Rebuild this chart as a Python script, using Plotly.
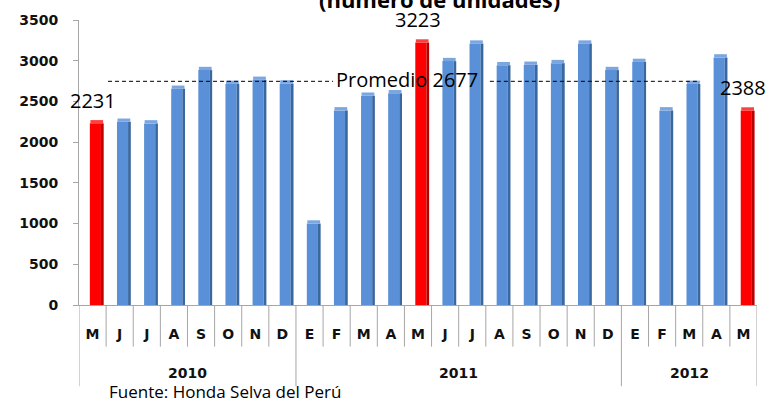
import plotly.graph_objects as go

# ---------------- data ----------------
MESES = ["M", "J", "J", "A", "S", "O", "N", "D",
         "E", "F", "M", "A", "M", "J", "J", "A", "S", "O", "N", "D",
         "E", "F", "M", "A", "M"]
ANIOS = ["2010"] * 8 + ["2011"] * 12 + ["2012"] * 5
UNIDADES = [2231, 2250, 2230, 2655, 2885, 2715, 2765, 2720,
            1000, 2390, 2570, 2600, 3223, 2995, 3210, 2945, 2950, 2970, 3210, 2885,
            2985, 2390, 2715, 3040, 2388]
DESTACADOS = [0, 12, 24]          # highlighted months (red, labelled)
PROMEDIO = 2677
Y_TICKS = [0, 500, 1000, 1500, 2000, 2500, 3000, 3500]
TITULO = "(número de unidades)"
FUENTE = "Fuente: Honda Selva del Perú"

# ---------------- styling ----------------
BLUE, BLUE_SIDE, BLUE_TOP = "#5990D7", "#3B679F", "#7BA6E0"
RED, RED_SIDE, RED_TOP = "#FF0000", "#B80000", "#FF4040"
GRAY = "#A6A6A6"
TICK_FONT = dict(family="DejaVu Sans", size=14, color="#111111", weight=700)
TEXT_FONT = dict(family="Open Sans", size=20, color="#000000")
CAP = 40            # height of the pseudo-3D top cap (axis units)
LINE_LIFT = 70      # visual lift of the drawn average line (3D wall offset)

idx = list(range(len(MESES)))
face_colors = [RED if i in DESTACADOS else BLUE for i in idx]
side_colors = [RED_SIDE if i in DESTACADOS else BLUE_SIDE for i in idx]
top_colors = [RED_TOP if i in DESTACADOS else BLUE_TOP for i in idx]

fig = go.Figure()
fig.add_trace(go.Bar(x=idx, y=UNIDADES, width=0.41, offset=-0.1,
                     marker=dict(color=face_colors, line=dict(width=0)),
                     hoverinfo="skip"))
fig.add_trace(go.Bar(x=idx, y=UNIDADES, width=0.1, offset=0.31,
                     marker=dict(color=side_colors, line=dict(width=0)),
                     hoverinfo="skip"))
fig.add_trace(go.Bar(x=idx, y=[CAP] * len(idx), base=UNIDADES, width=0.47, offset=-0.08,
                     marker=dict(color=top_colors, line=dict(width=0)),
                     hoverinfo="skip"))

shapes = []
# category dividers under the axis
year_bounds = set()
prev = None
for i, a in enumerate(ANIOS):
    if a != prev:
        year_bounds.add(i)
    prev = a
year_bounds.add(len(MESES))
for b in range(len(MESES) + 1):
    y1 = -0.285 if b in year_bounds else -0.146
    shapes.append(dict(type="line", xref="x", yref="paper", x0=b - 0.5, x1=b - 0.5,
                       y0=0, y1=y1, line=dict(color=GRAY, width=1)))
# average line (two dashed segments around the label)
for x0, x1 in [(0.57, 8.87), (14.65, 22.4)]:
    shapes.append(dict(type="line", xref="x", yref="y", x0=x0, x1=x1,
                       y0=PROMEDIO + LINE_LIFT, y1=PROMEDIO + LINE_LIFT,
                       line=dict(color="#000000", width=1, dash="4px,3px")))

annotations = []
annotations.append(dict(text=f"Promedio {PROMEDIO}", x=11.6, y=PROMEDIO + LINE_LIFT,
                        xref="x", yref="y", showarrow=False, font=TEXT_FONT,
                        xanchor="center", yanchor="middle", yshift=2))
for i in DESTACADOS:
    annotations.append(dict(text=str(UNIDADES[i]), x=i, y=UNIDADES[i] + CAP, xref="x", yref="y",
                            showarrow=False, font=TEXT_FONT, yanchor="bottom", yshift=4))
# year labels
years = []
for a in ANIOS:
    if a not in years:
        years.append(a)
for a in years:
    pos = [i for i, v in enumerate(ANIOS) if v == a]
    annotations.append(dict(text=f"<b>{a}</b>", x=sum(pos) / len(pos), y=-0.238,
                            xref="x", yref="paper", showarrow=False,
                            font=TICK_FONT, yanchor="middle"))
annotations.append(dict(text=FUENTE, x=0.041, y=-0.302, xref="paper", yref="paper",
                        xanchor="left", yanchor="middle", showarrow=False,
                        font=dict(family="Open Sans", size=17, color="#000000")))
annotations.append(dict(text=f"<b>{TITULO}</b>", x=0.532, y=1, xref="paper", yref="paper",
                        xanchor="center", yanchor="bottom", showarrow=False, yshift=4,
                        font=dict(family="Open Sans", size=22, color="#000000")))

fig.update_layout(
    width=784, height=404,
    margin=dict(l=79, r=27, t=14, b=99),
    paper_bgcolor="white", plot_bgcolor="white",
    barmode="overlay", showlegend=False,
    shapes=shapes, annotations=annotations,
    xaxis=dict(range=[-0.5, len(MESES) - 0.5], tickmode="array", tickvals=idx,
               ticktext=MESES, tickfont=TICK_FONT, ticks="outside", ticklen=16,
               tickcolor="rgba(0,0,0,0)", showline=True, linecolor=GRAY, linewidth=1,
               showgrid=False, zeroline=False, fixedrange=True),
    yaxis=dict(range=[0, 3500], tickmode="array", tickvals=Y_TICKS, tickfont=TICK_FONT,
               ticks="outside", ticklen=5, tickcolor=GRAY, showline=True, linecolor=GRAY,
               linewidth=1, showgrid=False, zeroline=False, fixedrange=True,
               ticklabelstandoff=12),
)

fig.write_html("out.html", config={"displayModeBar": False},
               post_script="document.body.style.margin='0';")
